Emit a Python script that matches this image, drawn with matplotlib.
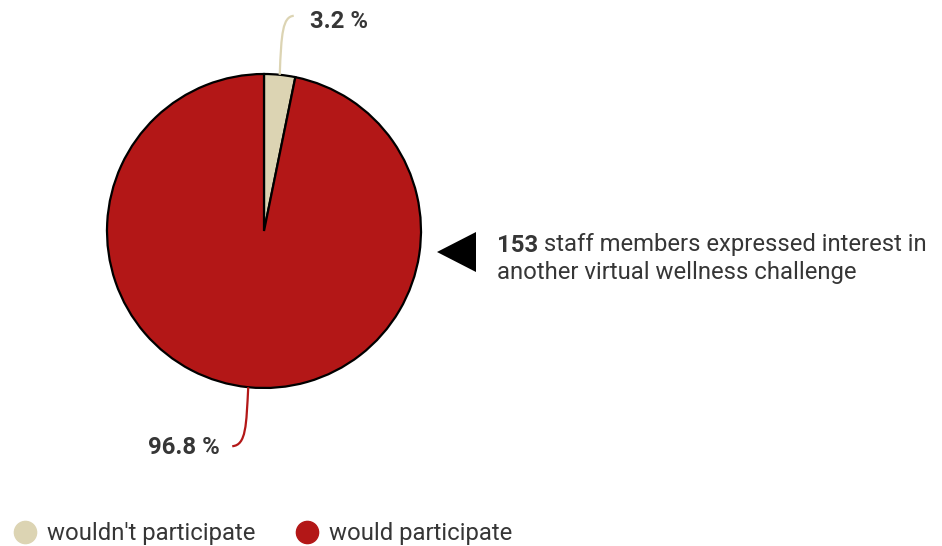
import matplotlib
matplotlib.use("Agg")
import matplotlib.pyplot as plt
import numpy as np
from matplotlib.path import Path
from matplotlib.patches import PathPatch, Polygon
from matplotlib.lines import Line2D

# data
categories = ["wouldn't participate", "would participate"]
shares = [3.2, 96.8]
colors = ["#DCD4B3", "#B31717"]
headline_count = "153"
headline_rest = " staff members expressed interest in"
headline_line2 = "another virtual wellness challenge"

W, H = 942, 546
plt.rcParams["font.family"] = ["Roboto", "DejaVu Sans"]
TEXT = "#363636"
FS = 17.2

fig = plt.figure(figsize=(W / 100, H / 100), dpi=100)
ax = fig.add_axes([0, 0, 1, 1])

cx, cy, R = 264, 315, 157
wedges, _ = ax.pie(shares, colors=colors, startangle=90, counterclock=False,
                   center=(cx, cy), radius=R,
                   wedgeprops=dict(edgecolor="black", linewidth=1.6))
ax.set_xlim(0, W)
ax.set_ylim(0, H)
ax.set_aspect("auto")
ax.axis("off")

# leader lines from wedge mid-angles
frac = np.array(shares) / sum(shares)
starts = np.concatenate([[0], np.cumsum(frac)[:-1]])
mids = np.deg2rad(90 - (starts + frac / 2) * 360)


def edge_point(a):
    return cx + R * np.cos(a), cy + R * np.sin(a)


# small slice: up then right
x0, y0 = edge_point(mids[0])
p = Path([(x0, y0), (x0 + 1.5, y0 + 42), (x0 + 3, y0 + 58), (x0 + 14, y0 + 59)],
         [Path.MOVETO, Path.CURVE4, Path.CURVE4, Path.CURVE4])
ax.add_patch(PathPatch(p, fill=False, edgecolor=colors[0], lw=1.6))
ax.text(x0 + 30, y0 + 53, f"{shares[0]} %", fontsize=FS, fontweight="bold",
        color=TEXT, ha="left", va="center")

# large slice: down then left
x1, y1 = edge_point(mids[1])
p = Path([(x1, y1), (x1 - 2, y1 - 38), (x1 - 2, y1 - 58), (x1 - 16, y1 - 59)],
         [Path.MOVETO, Path.CURVE4, Path.CURVE4, Path.CURVE4])
ax.add_patch(PathPatch(p, fill=False, edgecolor=colors[1], lw=1.6))
ax.text(x1 - 28, y1 - 60, f"{shares[1]} %", fontsize=FS, fontweight="bold",
        color=TEXT, ha="right", va="center")

# callout arrow and text
ax.add_patch(Polygon([(437, 294), (476, 314), (476, 274)], closed=True,
                     facecolor="black", edgecolor="none"))
t1 = ax.text(497, 301, headline_count, fontsize=FS, fontweight="bold",
             color=TEXT, ha="left", va="center")
ax.annotate(headline_rest, xy=(1, 0.5), xycoords=t1, fontsize=FS,
            color=TEXT, ha="left", va="center")
ax.text(497, 273, headline_line2, fontsize=FS, color=TEXT, ha="left",
        va="center")

# legend
handles = [Line2D([], [], marker="o", ls="", markersize=16,
                  markerfacecolor=c, markeredgecolor=c) for c in colors]
leg = ax.legend(handles, categories, loc="center left",
                bbox_to_anchor=(15.5 / W, 12.5 / H), ncol=2, frameon=False,
                fontsize=FS, handlelength=0.8, handletextpad=0.5,
                columnspacing=1.8, borderaxespad=0, borderpad=0)
for t in leg.get_texts():
    t.set_color(TEXT)

fig.savefig("out.png", dpi=100)
